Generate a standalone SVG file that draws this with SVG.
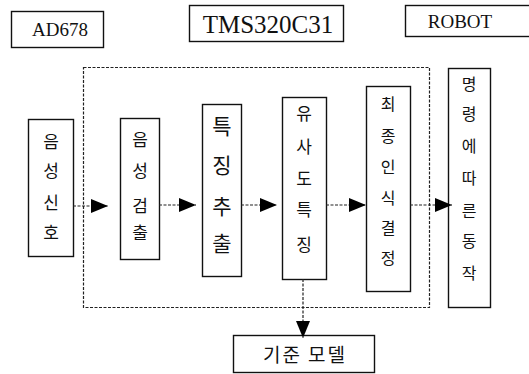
<svg xmlns="http://www.w3.org/2000/svg" width="529" height="374" viewBox="0 0 529 374">
  <style>
    .box { fill: #fff; stroke: #111; stroke-width: 1.4; }
    .frame { fill: none; stroke: #222; stroke-width: 1.2; stroke-dasharray: 3 1.5; }
    .link { fill: none; stroke: #222; stroke-width: 1.2; stroke-dasharray: 3 1.5; }
    .ko { font-family: "Noto Sans CJK KR", "Noto Sans", sans-serif; fill: #111; text-anchor: middle; dominant-baseline: central; }
    .en { font-family: "Liberation Serif", "DejaVu Serif", serif; fill: #111; text-anchor: middle; }
  </style>
  <defs>
    <marker id="head" markerWidth="17" markerHeight="14" refX="17" refY="7" orient="auto" markerUnits="userSpaceOnUse">
      <path d="M0,0 L17,7 L0,14 Z" fill="#000"/>
    </marker>
  </defs>
  <rect width="529" height="374" fill="#fff"/>

  <!-- hardware labels -->
  <g id="ad678">
    <rect class="box" x="11.5" y="11.5" width="92" height="36"/>
    <text class="en" x="60" y="36" font-size="19">AD678</text>
  </g>
  <g id="tms320c31">
    <rect class="box" x="189.5" y="5.5" width="154" height="36"/>
    <text class="en" x="268" y="33" font-size="25">TMS320C31</text>
  </g>
  <g id="robot">
    <rect class="box" x="405.5" y="5.5" width="130" height="31"/>
    <text class="en" x="460" y="28" font-size="19">ROBOT</text>
  </g>

  <!-- DSP boundary -->
  <g id="dsp-frame">
    <rect class="frame" x="83.5" y="67.5" width="346" height="240"/>
  </g>

  <!-- processing stages -->
  <g id="signal">
    <rect class="box" x="28.5" y="119.5" width="45" height="137"/>
    <g class="ko" font-size="17">
      <text x="51" y="140">음</text>
      <text x="51" y="169">성</text>
      <text x="51" y="201">신</text>
      <text x="51" y="231">호</text>
    </g>
  </g>
  <g id="detect">
    <rect class="box" x="120.5" y="118.5" width="39" height="141"/>
    <g class="ko" font-size="17">
      <text x="140" y="138">음</text>
      <text x="140" y="169">성</text>
      <text x="140" y="204">검</text>
      <text x="140" y="231">출</text>
    </g>
  </g>
  <g id="features">
    <rect class="box" x="202.5" y="104.5" width="39" height="172"/>
    <g class="ko" font-size="21">
      <text x="222" y="125">특</text>
      <text x="222" y="164">징</text>
      <text x="222" y="205">추</text>
      <text x="222" y="242">출</text>
    </g>
  </g>
  <g id="similarity">
    <rect class="box" x="282.5" y="97.5" width="44" height="182"/>
    <g class="ko" font-size="17">
      <text x="304" y="112">유</text>
      <text x="304" y="145">사</text>
      <text x="304" y="177">도</text>
      <text x="304" y="208">특</text>
      <text x="304" y="243">징</text>
    </g>
  </g>
  <g id="decision">
    <rect class="box" x="366.5" y="86.5" width="44" height="205"/>
    <g class="ko" font-size="16">
      <text x="388" y="103">최</text>
      <text x="388" y="135">종</text>
      <text x="388" y="166">인</text>
      <text x="388" y="197">식</text>
      <text x="388" y="227">결</text>
      <text x="388" y="257">정</text>
    </g>
  </g>
  <g id="action">
    <rect class="box" x="448.5" y="68.5" width="42" height="239"/>
    <g class="ko" font-size="16">
      <text x="469" y="83">명</text>
      <text x="469" y="113">령</text>
      <text x="469" y="145">에</text>
      <text x="469" y="177">따</text>
      <text x="469" y="210">른</text>
      <text x="469" y="240">동</text>
      <text x="469" y="272">작</text>
    </g>
  </g>
  <g id="reference-model">
    <rect class="box" x="233.5" y="335.5" width="141" height="37"/>
    <text class="ko" x="305" y="353" font-size="19" letter-spacing="2">기준 모델</text>
  </g>

  <!-- connectors -->
  <g id="connectors">
    <path class="link" d="M73,206 H108" marker-end="url(#head)"/>
    <path class="link" d="M159,205 H196" marker-end="url(#head)"/>
    <path class="link" d="M241,205 H277" marker-end="url(#head)"/>
    <path class="link" d="M326,205 H366" marker-end="url(#head)"/>
    <path class="link" d="M410,205 H452" marker-end="url(#head)"/>
    <path class="link" d="M303,279 V338" marker-end="url(#head)"/>
  </g>
</svg>
